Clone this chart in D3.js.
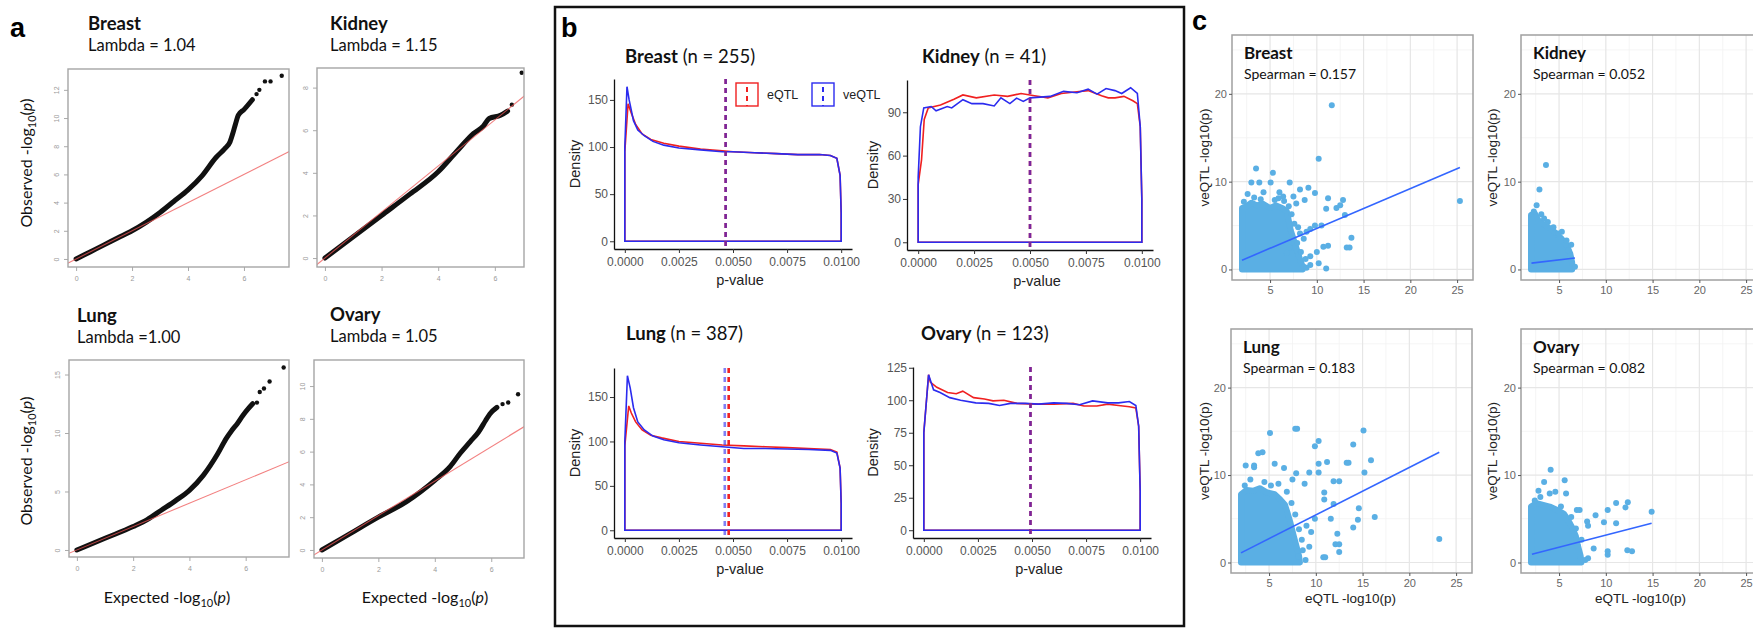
<!DOCTYPE html>
<html lang="en">
<head>
<meta charset="UTF-8">
<title>eQTL vs veQTL</title>
<style>
  body { margin: 0; background: #fff; }
  .cal { font-family: Lato, "Open Sans", sans-serif; fill: #111; }
  .gg { font-family: "Liberation Sans", Arial, sans-serif; }
  .lab { font-family: "Liberation Sans", Arial, sans-serif; font-weight: bold; font-size: 27px; }
</style>
<script src="https://cdn.jsdelivr.net/npm/d3@7"></script>
</head>
<body>
<div id="fig"></div>
<script>
// ---------- panel a : QQ plots ----------
const qqTissues = ["Breast", "Kidney", "Lung", "Ovary"];
const qqLambda = ["Lambda = 1.04", "Lambda = 1.15", "Lambda =1.00", "Lambda = 1.05"];
const qqSlope = [1.0, 1.08, 1.0, 1.05];
const qqXTicks = [0, 2, 4, 6];
const qqYTicks = [[0, 2, 4, 6, 8, 10, 12], [0, 2, 4, 6, 8], [0, 5, 10, 15], [0, 2, 4, 6, 8, 10]];
const qqBreastDense = [[0,0],[0.5,0.5],[1,1],[1.5,1.5],[2,2],[2.5,2.6],[3,3.3],[3.5,4.1],[4,4.9],[4.5,5.9],[5,7.2],[5.3,7.8],[5.5,8.3],[5.6,8.9],[5.7,9.6],[5.8,10.2],[6,10.6],[6.3,11.3]];
const qqBreastTail = [[6.45,11.7],[6.55,12.0],[6.75,12.6],[6.95,12.6],[7.35,13.0]];
const qqKidneyDense = [[0,0],[1,1],[2,2],[3,3],[4,4.05],[4.65,5.0],[5.25,5.85],[5.6,6.2],[5.8,6.55],[6.2,6.7],[6.45,6.9]];
const qqKidneyTail = [[6.6,7.2],[6.95,8.7]];
const qqLungDense = [[0,0],[1,1],[2,2],[2.5,2.6],[3,3.4],[3.5,4.2],[4,5.1],[4.5,6.4],[5,8.2],[5.3,9.5],[5.5,10.2],[5.7,10.8],[5.9,11.5],[6.1,12.1],[6.25,12.5]];
const qqLungTail = [[6.4,12.6],[6.5,13.5],[6.65,13.8],[6.85,14.4],[7.35,15.6]];
const qqOvaryDense = [[0,0],[1,1],[2,2],[3,2.95],[4,4.25],[4.55,5.1],[4.9,5.9],[5.25,6.6],[5.55,7.2],[5.8,7.9],[5.95,8.3],[6.2,8.7]];
const qqOvaryTail = [[6.4,8.9],[6.6,9.0],[6.95,9.5]];

// ---------- panel b : p-value densities ----------
const densTitles = ["Breast", "Kidney", "Lung", "Ovary"];
const densN = [" (n = 255)", " (n = 41)", " (n = 387)", " (n = 123)"];
const densXTicks = [0, 0.0025, 0.005, 0.0075, 0.01];
const densXLabels = ["0.0000", "0.0025", "0.0050", "0.0075", "0.0100"];
const densYTicks = [[0, 50, 100, 150], [0, 30, 60, 90], [0, 50, 100, 150], [0, 25, 50, 75, 100, 125]];
const densCutE = [0.00466, 0.0050, 0.0048, 0.00493];
const densCutV = [0.00466, 0.0050, 0.00462, 0.00493];
const densBreastE = [[0,0],[0,95],[0.00015,146],[0.0003,136],[0.0005,124],[0.0008,114],[0.0012,108],[0.0018,104],[0.0025,101],[0.0035,98],[0.0045,96],[0.005,95],[0.006,94],[0.007,93],[0.008,92],[0.009,92],[0.0095,91],[0.0098,88],[0.00995,70],[0.01,30],[0.01,0]];
const densBreastV = [[0,0],[0,100],[0.0001,164],[0.0002,150],[0.0004,128],[0.0006,118],[0.0009,112],[0.0013,106],[0.0018,102],[0.0025,99],[0.0035,97],[0.0045,95],[0.005,95],[0.006,94],[0.007,93],[0.008,92],[0.009,92],[0.0095,91],[0.0098,88],[0.00995,70],[0.01,30],[0.01,0]];
const densKidneyE = [[0,0],[0,40],[0.00015,57],[0.00027,85],[0.00045,93],[0.001,95],[0.0016,99],[0.002,102],[0.0026,100],[0.0034,102],[0.004,101],[0.0046,103],[0.0052,101.5],[0.0058,100],[0.0064,103],[0.007,104],[0.0076,105],[0.0082,101.5],[0.0085,100],[0.0088,100],[0.0092,101],[0.0096,98],[0.0098,96],[0.00993,80],[0.01,30],[0.01,0]];
const densKidneyV = [[0,0],[0,45],[0.0001,80],[0.00025,93],[0.00058,94],[0.0008,91],[0.0013,94],[0.0015,93],[0.002,98.7],[0.0024,96],[0.0029,96],[0.0034,94.4],[0.0037,100],[0.0041,96],[0.0044,99.8],[0.0047,97.5],[0.005,100],[0.0059,101],[0.0065,104.5],[0.0071,103.5],[0.0076,106],[0.008,102.6],[0.0084,106.4],[0.0088,105],[0.0091,103],[0.0095,107],[0.0098,103],[0.00993,80],[0.01,30],[0.01,0]];
const densLungE = [[0,0],[0,95],[0.00018,140],[0.0003,132],[0.0005,122],[0.0008,113],[0.0012,107],[0.0017,104],[0.0025,100],[0.0035,98],[0.0045,96],[0.0055,95],[0.0065,94],[0.0075,93],[0.0085,92],[0.0095,91],[0.0098,88],[0.00995,70],[0.01,30],[0.01,0]];
const densLungV = [[0,0],[0,100],[0.00012,174],[0.00025,160],[0.0004,138],[0.0006,122],[0.0009,113],[0.0013,106],[0.0018,102],[0.0025,98.5],[0.0035,96],[0.0045,94],[0.0055,92],[0.0065,92],[0.0075,91.5],[0.0085,91],[0.0095,90],[0.0098,87],[0.00995,70],[0.01,30],[0.01,0]];
const densOvaryE = [[0,0],[0,75],[0.00022,119.6],[0.0003,114],[0.0006,110],[0.0011,106],[0.0015,105],[0.0018,107],[0.0023,102],[0.0028,101],[0.0032,99.5],[0.0037,100],[0.0043,97.6],[0.0051,97],[0.006,97],[0.0069,97.6],[0.0074,95.6],[0.008,95.6],[0.0085,97],[0.009,96],[0.0095,95],[0.0098,94],[0.00993,80],[0.01,30],[0.01,0]];
const densOvaryV = [[0,0],[0,75],[0.00022,119.6],[0.00045,108],[0.00075,106],[0.0012,102],[0.0017,100],[0.0024,98],[0.003,97.6],[0.0035,96],[0.004,97.6],[0.0047,97.6],[0.0053,97],[0.006,98],[0.0066,97.6],[0.0072,96.5],[0.0078,99.5],[0.0085,98],[0.009,98],[0.0095,99],[0.0098,96],[0.00993,80],[0.01,30],[0.01,0]];

// ---------- panel c : eQTL vs veQTL scatter ----------
const scTissues = ["Breast", "Kidney", "Lung", "Ovary"];
const scSpearman = ["Spearman = 0.157", "Spearman = 0.052", "Spearman = 0.183", "Spearman = 0.082"];
const scXTicks = [5, 10, 15, 20, 25];
const scYTicks = [0, 10, 20];
const scBreastBlob = [[2,0],[2,7.0],[2.5,7.2],[3,7.6],[3.6,7.3],[4.2,7.5],[5,7.0],[5.6,7.3],[6.3,7.0],[6.8,6.6],[7.0,5.6],[7.2,4.5],[7.5,3.5],[7.8,2.5],[8.1,1.5],[8.4,0.6],[8.5,0]];
const scBreastPts = [[11.6,18.7],[10.2,12.6],[3.5,11.5],[5.3,11.0],[3.0,9.9],[3.85,9.9],[5.06,9.9],[7.1,9.9],[8.2,9.1],[9.1,9.3],[9.8,8.7],[11.2,8.1],[25.3,7.8],[12.8,7.9],[12.1,7.0],[11.0,6.9],[12.5,7.3],[13.0,6.2],[9.8,5.0],[10.5,5.0],[9.3,4.6],[8.9,4.3],[13.7,3.6],[13.2,2.5],[13.5,2.5],[11.2,2.7],[10.7,2.6],[10.0,2.0],[9.3,1.5],[10.2,0.7],[11.0,0.1],[9.3,0.5],[8.6,0.3],[6.8,1.9],[7.1,2.5],[8.2,4.1],[8.6,3.5],[7.8,7.5],[8.7,7.9],[6.4,8.3],[7.5,8.3],[2.6,8.6],[4.3,8.8],[6.0,8.8],[7.3,6.3],[7.6,5.2],[8.0,4.8],[7.9,3.0],[8.3,2.0],[8.8,1.2],[8.9,0.2],[6.5,7.8],[5.5,7.9],[4.0,8.0],[3.3,8.2],[2.2,7.7],[7.0,7.2],[5.9,8.1]];
const scBreastFit = [[2,1.05],[25.3,11.6]];
const scKidneyBlob = [[2,0],[2,6.2],[2.4,6.4],[2.8,5.6],[3.3,5.2],[4,4.7],[4.6,4.2],[5.2,3.6],[5.8,2.8],[6.2,1.8],[6.4,0.8],[6.4,0]];
const scKidneyPts = [[3.6,11.9],[2.9,9.1],[2.6,7.3],[2.3,6.6],[3.1,6.3],[3.8,5.4],[5.3,4.3],[5.8,3.3],[6.3,2.8],[6.7,0.3],[4.4,4.8],[3.4,5.8],[4.9,4.1],[6.0,2.2]];
const scKidneyFit = [[2.05,0.72],[6.7,1.3]];
const scLungBlob = [[2,0],[2,7.8],[2.6,8.3],[3.3,8.2],[4,8.5],[4.8,8.0],[5.6,7.8],[6.2,7.2],[6.7,6.6],[7.0,5.6],[7.3,4.5],[7.6,3.2],[7.9,2.0],[8.2,0.8],[8.3,0]];
const scLungPts = [[5.1,14.8],[8.0,15.3],[7.8,15.3],[15.1,15.1],[14.0,13.5],[10.3,13.9],[9.9,13.3],[3.85,12.5],[4.3,12.6],[5.6,11.3],[6.6,10.8],[2.5,11.1],[3.4,11.1],[3.4,10.9],[11.2,11.5],[10.3,11.3],[13.3,11.4],[13.5,11.4],[15.9,11.7],[7.9,10.2],[9.3,10.3],[10.3,10.3],[15.2,10.3],[11.9,9.3],[12.5,9.3],[10.9,8.0],[10.9,7.2],[11.9,6.7],[14.6,6.2],[16.3,5.2],[14.5,4.9],[11.6,5.0],[14.0,4.0],[12.3,3.3],[9.9,5.0],[9.0,4.2],[9.5,3.5],[12.1,2.1],[12.5,2.1],[12.5,1.2],[10.8,0.6],[11.0,0.6],[8.9,0.3],[8.1,0.7],[23.2,2.7],[9.3,1.8],[8.5,2.6],[8.8,9.0],[7.5,9.5],[6.0,9.0],[4.5,9.2],[3.0,9.5],[7.4,6.8],[7.8,5.5],[8.2,3.8],[8.6,1.4],[6.9,8.1],[5.2,8.8],[2.4,8.8]];
const scLungFit = [[2,1.1],[23.2,12.6]];
const scOvaryBlob = [[2,0],[2,6.4],[2.6,6.8],[3.3,6.6],[4,6.4],[4.8,6.0],[5.5,5.6],[6,4.8],[6.4,4.0],[6.8,3.0],[7.0,2.0],[7.3,0.8],[7.4,0]];
const scOvaryPts = [[4.1,10.6],[3.4,9.2],[5.6,9.4],[2.8,8.2],[4.0,7.9],[4.6,8.1],[5.75,7.9],[11.1,6.8],[12.35,6.9],[12.1,6.3],[10.2,6.0],[14.9,5.8],[7.2,6.0],[6.9,6.0],[8.9,5.4],[9.8,4.6],[11.1,4.5],[8.0,4.7],[8.1,4.2],[8.7,1.6],[10.2,1.3],[10.2,0.9],[12.3,1.4],[12.8,1.3],[8.1,0.5],[7.8,0.3],[7.0,1.8],[2.4,7.1],[3.0,7.5],[5.2,6.4],[6.3,5.2],[6.8,3.9],[7.4,2.6]];
const scOvaryFit = [[2.1,0.95],[14.9,4.5]];

const W = 1753, H = 630;
const svg = d3.select("#fig").append("svg")
    .attr("width", W).attr("height", H)
    .style("background", "#fff");

let clipId = 0;
function clipFor(x0, y0, w, h) {
    const id = "clip" + (clipId++);
    svg.append("clipPath").attr("id", id)
        .append("rect").attr("x", x0).attr("y", y0).attr("width", w).attr("height", h);
    return "url(#" + id + ")";
}

// ---------------- panel a ----------------
const qqBoxes = [
    {x0: 68, x1: 289, y0: 69, y1: 267, xd: [-0.29, 7.61], yd: [-0.57, 13.48], tx: 88, ty: 30},
    {x0: 317, x1: 524, y0: 68, y1: 267, xd: [-0.28, 7.03], yd: [-0.42, 8.92], tx: 330, ty: 30},
    {x0: 69, x1: 289, y0: 360, y1: 557, xd: [-0.28, 7.54], yd: [-0.6, 16.24], tx: 77, ty: 322},
    {x0: 314, x1: 524, y0: 360, y1: 558, xd: [-0.28, 7.16], yd: [-0.49, 11.59], tx: 330, ty: 321}
];
const qqDense = [qqBreastDense, qqKidneyDense, qqLungDense, qqOvaryDense];
const qqTail = [qqBreastTail, qqKidneyTail, qqLungTail, qqOvaryTail];

qqBoxes.forEach((b, i) => {
    const x = d3.scaleLinear().domain(b.xd).range([b.x0, b.x1]);
    const y = d3.scaleLinear().domain(b.yd).range([b.y1, b.y0]);
    const g = svg.append("g");
    const clip = clipFor(b.x0, b.y0, b.x1 - b.x0, b.y1 - b.y0);

    const xa = g.append("g").attr("transform", `translate(0,${b.y1})`)
        .call(d3.axisBottom(x).tickValues(qqXTicks).tickSize(4).tickSizeOuter(0));
    const ya = g.append("g").attr("transform", `translate(${b.x0},0)`)
        .call(d3.axisLeft(y).tickValues(qqYTicks[i]).tickSize(4).tickSizeOuter(0));
    [xa, ya].forEach(a => {
        a.select(".domain").remove();
        a.selectAll("line").attr("stroke", "#aaa");
        a.selectAll("text").attr("fill", "#999").style("font-size", "7px")
            .style("font-family", "Liberation Sans, sans-serif");
    });
    xa.selectAll("text").attr("y", 9);
    ya.selectAll("text").attr("x", -9).attr("dy", 0)
        .attr("text-anchor", "middle")
        .attr("transform", "rotate(-90,-9,0)");

    const pg = g.append("g").attr("clip-path", clip);
    const line = d3.line().x(d => x(d[0])).y(d => y(d[1])).curve(d3.curveMonotoneX);
    pg.append("path").datum(qqDense[i]).attr("d", line)
        .attr("fill", "none").attr("stroke", "#111").attr("stroke-width", 5)
        .attr("stroke-linecap", "round").attr("stroke-linejoin", "round");
    pg.selectAll("circle").data(qqTail[i]).join("circle")
        .attr("cx", d => x(d[0])).attr("cy", d => y(d[1])).attr("r", 2.2).attr("fill", "#111");
    pg.append("line")
        .attr("x1", x(b.xd[0] - 1)).attr("y1", y(qqSlope[i] * (b.xd[0] - 1)))
        .attr("x2", x(b.xd[1] + 1)).attr("y2", y(qqSlope[i] * (b.xd[1] + 1)))
        .attr("stroke", "#ee5555").attr("stroke-opacity", 0.75).attr("stroke-width", 1.1);

    g.append("rect").attr("x", b.x0).attr("y", b.y0)
        .attr("width", b.x1 - b.x0).attr("height", b.y1 - b.y0)
        .attr("fill", "none").attr("stroke", "#a5a5a5").attr("stroke-width", 1.4);

    g.append("text").attr("class", "cal").attr("x", b.tx).attr("y", b.ty)
        .style("font-size", "18.5px").style("font-weight", "bold").text(qqTissues[i]);
    g.append("text").attr("class", "cal").attr("x", b.tx).attr("y", b.ty + 21)
        .style("font-size", "16.5px").text(qqLambda[i]);
});

function logLabel(sel, prefix) {
    sel.append("tspan").text(prefix + " -log");
    sel.append("tspan").attr("dy", 4).style("font-size", "11px").text("10");
    sel.append("tspan").attr("dy", -4).text("(");
    sel.append("tspan").style("font-style", "italic").text("p");
    sel.append("tspan").text(")");
}
[163, 461].forEach(cy => {
    const t = svg.append("text").attr("class", "cal")
        .attr("transform", `translate(32,${cy}) rotate(-90)`)
        .attr("text-anchor", "middle").style("font-size", "16px");
    logLabel(t, "Observed");
});
[167, 425].forEach(cx => {
    const t = svg.append("text").attr("class", "cal")
        .attr("x", cx).attr("y", 603).attr("text-anchor", "middle").style("font-size", "16px");
    logLabel(t, "Expected");
});

// ---------------- panel b ----------------
svg.append("rect").attr("x", 555).attr("y", 7).attr("width", 1184 - 555).attr("height", 626 - 7)
    .attr("fill", "none").attr("stroke", "#111").attr("stroke-width", 2.5);

const densBoxes = [
    {ax0: 614, ax1: 852, ay0: 79, ay1: 249, tx: 625, ty: 63, lx: 575},
    {ax0: 907, ax1: 1153, ay0: 80, ay1: 250, tx: 922, ty: 63, lx: 873},
    {ax0: 614, ax1: 852, ay0: 368, ay1: 538, tx: 626, ty: 340, lx: 575},
    {ax0: 913, ax1: 1151, ay0: 367, ay1: 538, tx: 921, ty: 340, lx: 873}
];
const densE = [densBreastE, densKidneyE, densLungE, densOvaryE];
const densV = [densBreastV, densKidneyV, densLungV, densOvaryV];

densBoxes.forEach((b, i) => {
    const ymax = d3.max(densE[i].concat(densV[i]), d => d[1]);
    const x = d3.scaleLinear().domain([-0.0005, 0.0105]).range([b.ax0, b.ax1]);
    const y = d3.scaleLinear().domain([-0.05 * ymax, 1.05 * ymax]).range([b.ay1, b.ay0]);
    const g = svg.append("g").attr("class", "gg");

    const xa = g.append("g").attr("transform", `translate(0,${b.ay1})`)
        .call(d3.axisBottom(x).tickValues(densXTicks).tickFormat((d, k) => densXLabels[k])
            .tickSize(4).tickSizeOuter(0));
    const ya = g.append("g").attr("transform", `translate(${b.ax0},0)`)
        .call(d3.axisLeft(y).tickValues(densYTicks[i]).tickSize(4).tickSizeOuter(0));
    [xa, ya].forEach(a => {
        a.select(".domain").attr("stroke", "#111").attr("stroke-width", 1.3);
        a.selectAll(".tick line").attr("stroke", "#333");
        a.selectAll("text").attr("fill", "#555").style("font-size", "12px")
            .style("font-family", "Liberation Sans, Arial, sans-serif");
    });
    xa.selectAll("text").attr("y", 8);
    ya.selectAll("text").attr("x", -6);

    const line = d3.line().x(d => x(d[0])).y(d => y(d[1]));
    g.append("path").attr("d", line(densE[i]) + "Z")
        .attr("fill", "none").attr("stroke", "#f02020").attr("stroke-width", 1.6);
    g.append("path").attr("d", line(densV[i]) + "Z")
        .attr("fill", "none").attr("stroke", "#2b2bef").attr("stroke-width", 1.6);

    g.append("line").attr("x1", x(densCutE[i])).attr("x2", x(densCutE[i]))
        .attr("y1", b.ay0).attr("y2", b.ay1)
        .attr("stroke", "#f02020").attr("stroke-width", 2.6).attr("stroke-dasharray", "5,4");
    g.append("line").attr("x1", x(densCutV[i])).attr("x2", x(densCutV[i]))
        .attr("y1", b.ay0).attr("y2", b.ay1)
        .attr("stroke", "#2b2bef").attr("stroke-opacity", 0.6)
        .attr("stroke-width", 2.6).attr("stroke-dasharray", "5,4");

    const t = svg.append("text").attr("class", "cal").attr("x", b.tx).attr("y", b.ty)
        .style("font-size", "18.5px");
    t.append("tspan").style("font-weight", "bold").text(densTitles[i]);
    t.append("tspan").text(densN[i]);

    g.append("text").attr("x", (b.ax0 + b.ax1) / 2 + 7).attr("y", b.ay1 + 36)
        .attr("text-anchor", "middle").attr("fill", "#222").style("font-size", "14.5px").text("p-value");
    g.append("text").attr("transform", `translate(${b.lx + 5},${(b.ay0 + b.ay1) / 2}) rotate(-90)`)
        .attr("text-anchor", "middle").attr("fill", "#222").style("font-size", "14.5px").text("Density");
});

// legend (Breast density panel)
const legend = svg.append("g").attr("class", "gg");
[["eQTL", "#f02020", 736], ["veQTL", "#2b2bef", 812]].forEach(([lab, col, lx]) => {
    legend.append("rect").attr("x", lx).attr("y", 83).attr("width", 22).attr("height", 23)
        .attr("fill", "#fff").attr("stroke", col).attr("stroke-width", 1.4);
    legend.append("line").attr("x1", lx + 11).attr("x2", lx + 11).attr("y1", 87).attr("y2", 106)
        .attr("stroke", col).attr("stroke-width", 2).attr("stroke-dasharray", "5,4");
    legend.append("text").attr("x", lx + 31).attr("y", 99).attr("fill", "#222")
        .style("font-size", "12.5px").text(lab);
});

// ---------------- panel c ----------------
const scBoxes = [
    {x0: 1232, x1: 1473, y0: 35, y1: 280, lx: 1209},
    {x0: 1521, x1: 1762, y0: 35, y1: 280, lx: 1497},
    {x0: 1231, x1: 1472, y0: 329, y1: 573, lx: 1209},
    {x0: 1521, x1: 1762, y0: 329, y1: 573, lx: 1497}
];
const scBlob = [scBreastBlob, scKidneyBlob, scLungBlob, scOvaryBlob];
const scPts = [scBreastPts, scKidneyPts, scLungPts, scOvaryPts];
const scFit = [scBreastFit, scKidneyFit, scLungFit, scOvaryFit];
const ptCol = "#5aafe4";

scBoxes.forEach((b, i) => {
    const x = d3.scaleLinear().domain([0.93, 26.7]).range([b.x0, b.x1]);
    const y = d3.scaleLinear().domain([-1.2, 26.7]).range([b.y1, b.y0]);
    const g = svg.append("g").attr("class", "gg");
    const clip = clipFor(b.x0, b.y0, b.x1 - b.x0, b.y1 - b.y0);

    const grid = g.append("g");
    [2.5, 7.5, 12.5, 17.5, 22.5].forEach(v => grid.append("line")
        .attr("x1", x(v)).attr("x2", x(v)).attr("y1", b.y0).attr("y2", b.y1)
        .attr("stroke", "#f2f2f2").attr("stroke-width", 0.8));
    [5, 15, 25].forEach(v => grid.append("line")
        .attr("x1", b.x0).attr("x2", b.x1).attr("y1", y(v)).attr("y2", y(v))
        .attr("stroke", "#f2f2f2").attr("stroke-width", 0.8));
    scXTicks.forEach(v => grid.append("line")
        .attr("x1", x(v)).attr("x2", x(v)).attr("y1", b.y0).attr("y2", b.y1)
        .attr("stroke", "#e6e6e6").attr("stroke-width", 1.2));
    scYTicks.forEach(v => grid.append("line")
        .attr("x1", b.x0).attr("x2", b.x1).attr("y1", y(v)).attr("y2", y(v))
        .attr("stroke", "#e6e6e6").attr("stroke-width", 1.2));

    const pg = g.append("g").attr("clip-path", clip);
    pg.append("path").datum(scBlob[i])
        .attr("d", d3.line().x(d => x(d[0])).y(d => y(d[1])).curve(d3.curveLinearClosed))
        .attr("fill", ptCol).attr("stroke", ptCol).attr("stroke-width", 6)
        .attr("stroke-linejoin", "round");
    pg.selectAll("circle").data(scPts[i]).join("circle")
        .attr("cx", d => x(d[0])).attr("cy", d => y(d[1])).attr("r", 3).attr("fill", ptCol);
    pg.append("path").datum(scFit[i])
        .attr("d", d3.line().x(d => x(d[0])).y(d => y(d[1])))
        .attr("stroke", "#3366ff").attr("stroke-width", 1.6).attr("fill", "none");

    g.append("rect").attr("x", b.x0).attr("y", b.y0)
        .attr("width", b.x1 - b.x0).attr("height", b.y1 - b.y0)
        .attr("fill", "none").attr("stroke", "#a0a0a0").attr("stroke-width", 1.5);

    const xa = g.append("g").attr("transform", `translate(0,${b.y1})`)
        .call(d3.axisBottom(x).tickValues(scXTicks).tickSize(3).tickSizeOuter(0));
    const ya = g.append("g").attr("transform", `translate(${b.x0},0)`)
        .call(d3.axisLeft(y).tickValues(scYTicks).tickSize(3).tickSizeOuter(0));
    [xa, ya].forEach(a => {
        a.select(".domain").remove();
        a.selectAll(".tick line").attr("stroke", "#555");
        a.selectAll("text").attr("fill", "#666").style("font-size", "11px")
            .style("font-family", "Liberation Sans, Arial, sans-serif");
    });
    ya.selectAll("text").attr("x", -5);
    xa.selectAll("text").attr("y", 6);

    svg.append("text").attr("class", "cal").attr("x", b.x0 + 12).attr("y", b.y0 + 24)
        .style("font-size", "17px").style("font-weight", "bold").text(scTissues[i]);
    svg.append("text").attr("class", "cal").attr("x", b.x0 + 12).attr("y", b.y0 + 44)
        .style("font-size", "14px").attr("fill", "#333").text(scSpearman[i]);

    g.append("text").attr("transform", `translate(${b.lx},${(b.y0 + b.y1) / 2}) rotate(-90)`)
        .attr("text-anchor", "middle").attr("fill", "#222").style("font-size", "13.5px")
        .text("veQTL -log10(p)");
    if (i >= 2) {
        g.append("text").attr("x", (b.x0 + b.x1) / 2 - 1).attr("y", 603)
            .attr("text-anchor", "middle").attr("fill", "#222").style("font-size", "13.5px")
            .text("eQTL -log10(p)");
    }
});

// panel letters
svg.append("text").attr("class", "lab").attr("x", 10).attr("y", 37).text("a");
svg.append("text").attr("class", "lab").attr("x", 561).attr("y", 37).text("b");
svg.append("text").attr("class", "lab").attr("x", 1192).attr("y", 30).text("c");
</script>
</body>
</html>
